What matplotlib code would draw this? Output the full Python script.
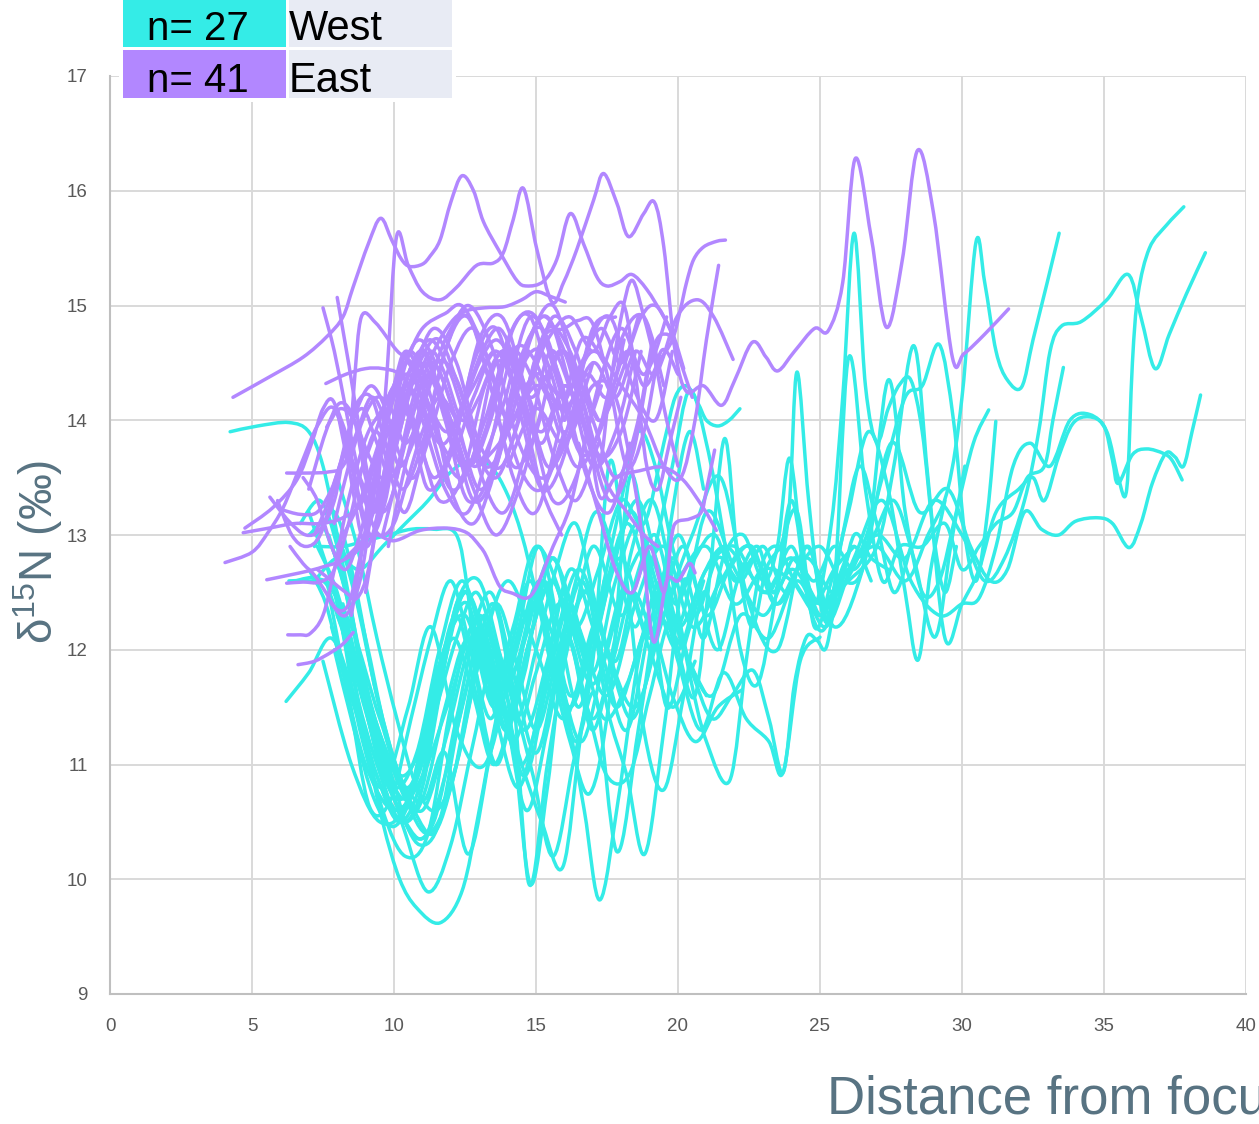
import numpy as np
import matplotlib
matplotlib.use("Agg")
import matplotlib.pyplot as plt
from matplotlib.path import Path
from matplotlib.patches import PathPatch, Rectangle

# ---------------------------------------------------------------- data
x_ticks = [0, 5, 10, 15, 20, 25, 30, 35, 40]
y_ticks = [9, 10, 11, 12, 13, 14, 15, 16, 17]
group_names = ["West", "East"]
group_counts = ["n= 27", "n= 41"]

# West profiles: (distance, d15N)
w01 = [(7.0,12.7),(7.6,12.4),(8.2,11.8),(9.0,11.0),(10.0,10.6),(11.0,10.9),(12.0,11.6),(13.0,12.3),(14.0,11.7),(15.0,12.4),(16.0,12.0),(17.0,12.9),(18.0,12.3),(19.0,12.8),(20.0,12.2),(21.0,13.2),(22.0,12.7),(23.0,12.3),(24.0,12.7),(25.0,12.4),(26.0,12.7),(27.0,13.0),(28.0,12.8),(29.0,13.3),(30.0,13.0),(30.8,12.6),(31.5,12.8),(32.2,13.3),(32.7,13.9),(33.1,14.6),(33.5,14.82),(34.2,14.86),(35.1,15.05),(35.85,15.27),(36.3,14.9),(36.8,14.45),(37.3,14.75),(37.9,15.1),(38.57,15.46)]
w02 = [(7.0,13.2),(8.0,12.4),(8.8,11.3),(9.6,10.8),(10.5,11.5),(11.3,12.2),(12.2,11.3),(13.2,11.0),(14.2,11.9),(15.2,12.6),(16.2,11.6),(17.2,12.3),(18.2,13.1),(19.2,12.4),(20.2,12.0),(21.2,11.6),(22.2,12.3),(23.2,12.1),(24.2,12.6),(25.2,12.2),(26.2,12.8),(27.2,13.3),(28.2,12.6),(29.2,12.3),(30.0,12.4),(30.6,12.45),(31.2,12.9),(31.8,13.6),(32.4,13.8),(33.1,13.6),(33.8,14.0),(34.5,14.05),(35.1,13.9),(35.5,13.5),(35.8,13.4),(36.0,14.5),(36.2,15.1),(36.6,15.5),(37.2,15.7),(37.81,15.86)]
w03 = [(6.5,12.6),(7.5,12.6),(8.5,12.2),(9.5,11.4),(10.5,10.8),(11.5,11.6),(12.5,12.5),(13.5,11.8),(14.5,11.0),(15.5,11.9),(16.5,12.7),(17.5,12.0),(18.5,11.5),(19.5,12.3),(20.5,13.0),(21.5,13.5),(22.5,12.4),(23.5,12.0),(24.5,12.9),(25.5,12.2),(26.5,12.7),(27.5,13.8),(28.5,13.2),(29.5,13.4),(30.3,12.9),(31.0,12.6),(31.6,12.7),(32.2,13.2),(32.8,13.05),(33.4,13.0),(34.0,13.12),(34.8,13.15),(35.3,13.1),(35.88,12.89),(36.3,13.1),(36.7,13.45),(37.17,13.71),(37.5,13.68),(37.8,13.6),(38.1,13.9),(38.4,14.22)]
w04 = [(7.8,12.2),(8.6,11.5),(9.4,10.9),(10.2,10.5),(11.0,10.9),(11.8,12.0),(12.6,12.4),(13.4,11.6),(14.2,12.2),(15.0,12.9),(16.0,12.4),(17.0,11.7),(18.0,12.5),(19.0,12.9),(20.0,12.2),(21.0,12.7),(22.0,12.9),(23.0,12.5),(24.0,12.8),(25.0,12.4),(26.0,12.6),(27.0,12.9),(27.6,13.6),(28.3,14.65),(28.8,13.5),(29.4,12.1),(30.0,12.4),(30.6,12.7),(31.2,13.2),(32.0,13.4),(32.5,13.5),(32.9,13.3),(33.4,13.68),(33.9,13.97),(34.47,14.03),(35.0,13.95),(35.3,13.65),(35.5,13.45),(36.0,13.7),(36.5,13.75),(37.1,13.71),(37.4,13.65),(37.75,13.48)]
w05 = [(8.0,12.3),(8.8,11.8),(9.6,11.2),(10.4,10.7),(11.2,10.4),(12.0,10.8),(13.0,11.9),(14.0,12.6),(15.0,12.0),(16.0,11.4),(17.0,12.2),(18.0,12.8),(19.0,12.1),(20.0,12.6),(21.0,12.9),(22.0,12.4),(23.0,12.7),(24.0,12.6),(25.0,12.3),(26.0,12.7),(27.0,12.9),(28.0,12.6),(28.8,13.0),(29.5,13.4),(30.0,14.2),(30.49,15.55),(30.8,15.2),(31.2,14.6),(31.6,14.35),(32.1,14.29),(32.5,14.7),(33.0,15.2),(33.42,15.63)]
w06 = [(7.0,13.0),(7.8,13.1),(8.6,12.5),(9.4,11.6),(10.2,10.9),(11.0,10.6),(11.8,11.2),(12.6,12.0),(13.4,12.5),(14.2,11.8),(15.0,11.1),(15.8,11.9),(16.6,12.6),(17.4,11.9),(18.2,11.3),(19.0,12.2),(19.8,12.8),(20.6,12.3),(21.4,12.8),(22.2,12.6),(23.0,12.9),(23.8,12.5),(24.6,12.9),(25.4,12.3),(26.0,14.54),(26.6,13.4),(27.2,12.6),(27.8,12.9),(28.6,12.9),(29.4,13.1),(30.0,12.7),(30.6,12.9),(31.2,13.1),(31.8,13.2),(32.3,13.5),(32.9,13.6),(33.2,14.0),(33.57,14.46)]
w07 = [(7.5,11.9),(8.5,11.0),(9.5,10.5),(10.5,10.7),(11.5,11.8),(12.5,12.3),(13.5,11.5),(14.5,12.0),(15.5,12.8),(16.5,12.2),(17.5,11.6),(18.5,12.4),(19.5,12.9),(20.5,12.2),(21.5,12.6),(22.5,12.9),(23.5,12.4),(24.5,12.8),(25.5,12.5),(26.5,12.9),(27.3,13.6),(28.0,14.2),(28.6,14.3),(29.2,14.66),(29.7,14.0),(30.1,13.0),(30.5,12.6),(30.9,13.2),(31.19,13.99)]
w08 = [(8.2,12.4),(9.0,11.6),(9.8,11.0),(10.6,10.4),(11.4,10.5),(12.2,11.4),(13.0,12.2),(13.8,11.6),(14.6,10.9),(15.4,11.7),(16.2,12.4),(17.0,11.8),(17.8,12.6),(18.6,13.1),(19.4,12.5),(20.2,12.9),(21.0,12.3),(21.8,12.7),(22.6,12.9),(23.4,12.4),(24.2,12.7),(25.0,12.9),(25.8,12.6),(26.6,12.8),(27.4,14.35),(28.0,13.2),(28.6,12.5),(29.2,12.6),(29.8,13.2),(30.4,13.8),(30.94,14.09)]
w09 = [(8.0,12.0),(8.8,11.4),(9.6,10.6),(10.4,10.2),(11.2,10.4),(12.0,11.5),(12.8,12.2),(13.6,11.4),(14.4,10.8),(15.2,11.6),(16.0,12.5),(16.8,11.9),(17.6,12.6),(18.4,13.2),(19.2,12.5),(20.0,12.0),(20.8,12.6),(21.6,12.9),(22.4,12.7),(23.2,12.5),(24.0,12.9),(24.8,12.4),(25.4,13.1),(25.8,14.2),(26.2,15.63),(26.6,14.3),(27.0,13.81),(27.4,14.1),(27.8,14.31),(28.2,14.35),(28.6,13.9),(29.0,13.0),(29.4,12.5),(29.8,12.9)]
w10 = [(7.6,12.6),(8.4,12.0),(9.2,11.3),(10.0,10.8),(10.8,11.1),(11.6,12.0),(12.4,12.6),(13.2,12.0),(14.0,11.4),(14.8,12.1),(15.6,12.8),(16.4,12.2),(17.2,12.7),(18.0,13.3),(18.8,13.1),(19.5,13.8),(19.9,14.2),(20.3,14.3),(20.7,14.15),(21.0,14.0),(21.4,13.95),(21.8,14.0),(22.18,14.1)]
w11 = [(6.2,11.55),(7.0,11.8),(7.8,12.1),(8.6,11.6),(9.4,10.9),(10.2,10.5),(11.0,10.7),(11.8,11.5),(12.6,12.1),(13.4,11.7),(14.2,11.2),(15.0,11.8),(15.8,12.4),(16.6,12.0),(17.4,11.4),(18.2,11.7),(19.0,12.2),(19.8,11.6),(20.6,11.2),(21.4,11.5),(22.25,11.65)]
w12 = [(4.23,13.9),(5.2,13.95),(6.3,13.98),(7.0,13.9),(7.5,13.6),(8.0,13.0),(8.6,12.2),(9.2,11.3),(9.8,10.7),(10.4,10.5),(11.0,10.8),(11.6,11.6),(12.2,12.4),(13.0,12.6),(13.8,11.9),(14.6,11.3),(15.4,11.9),(16.2,12.7),(17.0,12.2),(17.8,11.5),(18.6,12.0),(19.4,12.6),(20.2,12.0),(21.0,11.6)]
w13 = [(6.3,12.6),(7.0,12.6),(7.8,12.55),(8.4,12.0),(9.0,11.2),(9.6,10.5),(10.2,10.0),(10.8,9.75),(11.62,9.62),(12.4,9.9),(13.0,10.6),(13.6,11.4),(14.2,12.0),(15.0,12.4),(15.8,11.8),(16.6,11.2),(17.4,11.9),(18.2,12.5),(19.0,12.0),(19.8,11.5),(20.6,11.9)]
w14 = [(6.7,13.1),(7.4,13.3),(8.0,12.9),(8.6,12.2),(9.2,11.5),(9.8,10.9),(10.4,10.4),(11.2,9.89),(12.0,10.3),(12.8,11.2),(13.6,12.0),(14.2,11.2),(14.8,9.96),(15.4,10.8),(16.0,12.0),(16.8,12.5),(17.6,11.9),(18.4,11.4),(19.2,12.1),(19.8,13.2),(20.4,13.9),(20.9,13.4)]
w15 = [(7.2,12.9),(7.9,13.2),(8.6,12.6),(9.3,11.7),(10.0,11.0),(10.7,10.6),(11.4,10.4),(12.1,10.9),(12.8,11.8),(13.5,12.4),(14.2,11.6),(14.9,10.9),(15.6,10.2),(16.3,11.0),(17.0,11.9),(17.6,13.64),(18.2,12.6),(18.8,11.3),(19.5,10.78),(20.2,11.6),(20.9,12.5),(21.5,12.0)]
w16 = [(7.7,13.0),(8.4,12.4),(9.0,11.6),(9.7,11.0),(10.4,10.7),(11.1,11.1),(11.8,11.9),(12.5,12.5),(13.2,12.0),(13.9,11.3),(14.6,11.8),(15.3,12.6),(16.0,11.6),(16.7,10.6),(17.25,9.82),(17.9,10.7),(18.6,11.9),(19.3,12.5),(20.0,11.9),(20.8,11.3),(21.6,11.8),(22.4,11.4),(23.2,11.2),(23.7,10.93),(24.3,11.9),(25.0,12.11)]
w17 = [(8.0,12.4),(8.7,11.6),(9.4,11.0),(10.1,10.6),(10.8,10.9),(11.5,11.7),(12.2,12.3),(12.9,11.6),(13.6,11.0),(14.3,11.7),(15.0,12.5),(15.7,11.8),(16.4,11.2),(17.1,11.6),(17.85,10.24),(18.6,11.3),(19.3,12.4),(20.0,13.0),(20.7,12.5),(21.4,12.0),(22.1,12.6),(22.8,12.9),(23.4,12.5),(23.9,13.2),(24.19,14.42),(24.6,13.3),(25.1,12.3),(25.6,12.4),(26.2,13.0),(26.8,12.8),(27.4,12.7)]
w18 = [(7.6,13.2),(8.3,12.8),(9.0,12.1),(9.7,11.3),(10.4,10.8),(11.1,10.7),(11.8,11.1),(12.61,10.22),(13.4,11.1),(14.1,11.8),(14.75,9.96),(15.4,11.0),(16.1,12.0),(16.8,12.5),(17.5,11.5),(18.2,10.9),(18.83,10.22),(19.5,11.3),(20.2,12.6),(20.9,12.1),(21.6,12.8),(22.3,13.0),(23.0,12.6),(23.5,12.9),(23.93,13.67),(24.4,12.8),(25.0,12.3),(25.6,12.6),(26.2,12.9),(26.8,12.6)]
w19 = [(8.1,12.3),(8.8,11.7),(9.5,11.0),(10.2,10.6),(10.9,10.3),(11.6,10.5),(12.3,11.4),(13.0,12.0),(13.7,11.5),(14.4,12.2),(15.1,12.9),(15.8,12.2),(16.5,11.5),(17.2,12.2),(17.9,12.9),(18.6,13.3),(19.3,12.7),(20.0,12.0),(20.6,11.6),(21.1,12.6),(21.64,13.84),(22.1,12.8),(22.6,12.2),(23.1,12.7),(23.6,12.9),(24.2,13.2),(24.8,12.2),(25.4,12.6),(26.0,13.2),(26.7,13.9),(27.4,13.4),(28.0,12.5),(28.45,11.91),(28.9,12.7),(29.4,13.3)]
w20 = [(7.9,12.0),(8.6,11.3),(9.3,10.7),(10.0,10.46),(10.7,10.8),(11.4,11.6),(12.1,12.1),(12.8,11.6),(13.5,11.0),(14.2,11.5),(14.9,12.2),(15.6,12.6),(16.3,12.0),(17.0,11.3),(17.7,12.0),(18.4,12.9),(19.1,13.3),(19.8,12.6),(20.4,11.8),(21.0,11.2),(21.82,10.86),(22.4,11.9),(22.9,12.7),(23.5,12.9),(24.1,12.6),(24.8,12.4),(25.5,12.7),(26.2,12.9)]
w21 = [(7.3,12.9),(8.0,12.5),(8.7,11.8),(9.4,11.1),(10.1,10.7),(10.8,10.9),(11.5,11.5),(12.2,12.1),(12.9,12.5),(13.6,12.0),(14.3,11.4),(15.0,12.0),(15.7,12.7),(16.4,13.1),(17.1,12.4),(17.8,11.9),(18.5,12.6),(19.2,13.0),(19.9,12.4),(20.6,12.8),(21.3,13.0),(22.0,12.6),(22.7,12.8),(23.4,12.5),(24.1,12.8),(24.8,12.6),(25.5,12.9),(26.2,12.7),(26.9,13.0),(27.6,13.3),(28.3,12.8),(29.04,12.11),(29.6,12.9),(30.1,13.6)]
w22 = [(8.3,12.2),(9.0,11.5),(9.7,10.9),(10.4,10.5),(11.08,10.37),(11.8,10.9),(12.5,11.6),(13.2,12.3),(13.9,11.5),(14.66,10.6),(15.4,11.3),(16.1,12.1),(16.8,11.5),(17.5,10.9),(18.3,10.92),(19.0,11.6),(19.8,12.3),(20.5,11.8),(21.2,11.4),(21.9,11.6),(22.64,11.82),(23.2,11.4),(23.7,10.93),(24.1,11.7),(24.52,12.11),(24.9,12.08),(25.22,12.02),(25.6,12.5),(26.1,12.9)]
w23 = [(7.7,12.5),(8.4,11.6),(9.14,10.63),(9.9,10.7),(10.6,11.4),(11.3,12.1),(12.0,12.6),(12.7,12.0),(13.4,11.4),(14.1,12.0),(14.8,12.6),(15.5,11.9),(16.2,11.2),(16.9,10.75),(17.6,11.6),(18.3,13.5),(19.0,12.6),(19.6,11.5),(20.3,12.1),(20.9,12.6)]
w24 = [(7.5,13.1),(8.2,12.6),(8.9,11.8),(9.6,11.2),(10.3,10.9),(11.0,11.2),(11.7,11.9),(12.4,12.5),(13.1,12.2),(13.8,11.6),(14.5,11.0),(15.2,10.5),(15.95,10.11),(16.6,11.3),(17.4,12.6)]
w25 = [(8.0,13.5),(8.7,12.9),(9.4,12.1),(10.1,11.4),(10.8,10.8),(11.5,10.6),(12.2,11.0),(12.9,11.8),(13.6,12.4),(14.3,11.9),(15.0,11.3),(15.7,11.9),(16.4,12.6),(17.1,13.2),(17.8,12.8),(18.5,12.2),(19.2,12.9),(19.8,13.6),(20.4,14.26),(21.0,13.8),(21.6,13.0),(22.2,12.0),(22.8,11.7),(23.4,12.4),(24.0,13.3),(24.6,12.4),(25.2,12.2),(25.8,13.0),(26.4,13.6),(27.0,13.1),(27.6,12.5),(28.2,12.9)]
w26 = [(7.4,12.9),(8.2,12.9),(9.0,12.95),(9.8,13.0),(10.6,13.05),(11.4,13.05),(12.2,13.0),(12.6,12.5),(13.0,11.6),(13.6,11.0),(14.2,11.5),(14.9,12.2),(15.6,12.6),(16.3,12.0),(17.0,11.4),(17.7,11.9),(18.4,12.5),(19.1,12.1)]
w27 = [(7.2,12.6),(8.0,12.8),(8.8,12.7),(9.6,12.9),(10.4,13.1),(11.2,13.3),(12.0,13.55),(12.7,13.65),(13.4,13.6),(14.0,13.35),(14.5,13.0),(15.0,12.5),(15.6,11.9),(16.2,11.5),(16.8,11.9),(17.4,12.6),(18.0,13.3),(18.6,13.9),(19.2,13.6),(19.8,12.9),(20.5,12.3)]

# East profiles: (distance, d15N)
e01 = [(9.4,13.3),(9.75,14.4),(10.09,15.6),(10.5,15.35),(11.0,15.12),(11.62,15.05),(12.21,15.16),(12.91,15.35),(13.5,15.37),(13.85,15.46),(14.2,15.75),(14.56,16.02),(15.03,15.49),(15.56,15.03),(15.97,15.2),(16.44,15.49),(17.03,15.92),(17.38,16.15),(17.85,15.89),(18.26,15.6),(18.79,15.8),(19.17,15.9),(19.5,15.51),(19.9,14.6),(20.3,14.25),(20.9,14.3),(21.53,14.13),(22.0,14.35),(22.62,14.68),(23.1,14.55),(23.51,14.43),(24.1,14.6),(24.81,14.8),(25.29,14.78),(25.8,15.2),(26.24,16.28),(26.8,15.6),(27.34,14.81),(27.9,15.4),(28.43,16.35),(29.0,15.8),(29.66,14.55),(30.07,14.58),(30.8,14.75),(31.64,14.97)]
e02 = [(4.33,14.2),(5.63,14.38),(6.8,14.55),(7.64,14.73),(8.2,14.9),(8.56,15.16),(9.1,15.54),(9.53,15.76),(9.92,15.57),(10.27,15.4),(10.56,15.34),(11.0,15.36),(11.27,15.43),(11.62,15.57),(12.0,15.9),(12.39,16.13),(12.8,16.0),(13.15,15.73),(13.74,15.46),(14.32,15.22),(14.68,15.17),(15.26,15.21),(15.73,15.4),(16.2,15.8),(16.67,15.54),(17.14,15.25),(17.5,15.17),(17.97,15.21),(18.38,15.27),(18.9,15.14),(19.5,14.9),(19.85,14.73),(20.2,14.45)]
e03 = [(7.5,14.98),(7.9,14.6),(8.3,14.1),(8.7,13.6),(9.1,13.2),(9.5,13.0),(10.0,13.1),(10.5,13.5),(11.0,13.9),(11.6,14.2),(12.2,14.0)]
e04 = [(8.0,15.07),(8.4,14.5),(8.8,13.9),(9.2,13.4),(9.6,13.2),(10.0,13.4),(10.4,13.9),(10.8,14.3),(11.3,14.6),(11.8,14.4),(12.4,14.0),(13.0,14.2)]
e05 = [(9.6,13.0),(10.2,13.6),(10.8,14.2),(11.4,14.6),(12.0,14.85),(12.5,14.95),(13.2,14.98),(13.9,14.99),(14.5,15.05),(15.0,15.12),(15.5,15.08),(16.03,15.03)]
e06 = [(7.6,14.32),(8.3,14.4),(9.0,14.45),(9.6,14.45),(10.2,14.4),(10.8,14.2),(11.3,13.9),(11.8,13.8),(12.4,14.1),(13.0,14.5),(13.6,14.7),(14.2,14.5),(14.8,14.2),(15.4,14.4),(16.0,14.6),(16.6,14.3),(17.2,14.0)]
e07 = [(14.0,13.9),(15.0,14.3),(16.0,14.1),(16.8,14.4),(17.5,14.2),(18.2,14.6),(18.8,14.3),(19.3,14.5),(19.8,14.7),(20.08,14.96),(20.3,15.2),(20.55,15.4),(20.9,15.51),(21.37,15.56),(21.67,15.57)]
e08 = [(13.0,13.6),(14.0,13.9),(15.0,14.4),(16.0,14.2),(17.0,14.6),(18.0,14.3),(18.8,14.0),(19.5,13.6),(20.1,13.5),(20.6,14.0),(21.0,14.7),(21.43,15.35)]
e09 = [(16.0,14.0),(17.0,14.5),(17.8,14.2),(18.5,14.6),(19.2,14.4),(19.96,14.9),(20.67,15.05),(21.26,14.9),(21.94,14.53)]
e10 = [(7.9,13.1),(8.4,13.6),(8.9,14.0),(9.4,14.2),(9.9,14.1),(10.4,13.8),(11.0,14.1),(11.8,14.7),(12.6,14.9),(13.4,14.3),(14.2,13.6),(15.0,13.9),(15.8,14.6),(16.6,14.2),(17.4,13.5),(18.2,13.2),(18.8,13.0),(19.3,12.9)]
e11 = [(14.0,13.6),(15.0,14.1),(16.0,13.8),(17.0,14.3),(17.8,14.2),(18.6,13.24),(19.12,12.08),(19.6,12.6),(20.0,12.6),(20.4,12.75),(20.6,12.67)]
e12 = [(8.0,12.9),(8.8,13.3),(9.6,13.9),(10.4,14.4),(11.2,14.1),(12.0,13.7),(12.8,14.2),(13.6,14.6),(14.4,14.2),(15.2,13.8),(16.0,14.3),(16.8,13.9),(17.25,13.33),(17.8,13.5),(18.65,13.56),(19.47,13.59),(20.18,13.48),(20.88,13.24),(21.35,13.04)]
e13 = [(16.5,13.8),(17.2,13.2),(17.8,12.7),(18.4,12.5),(19.0,12.9),(19.5,12.5),(19.77,12.98),(19.94,13.11),(20.41,13.14),(20.82,13.2),(21.0,13.39),(21.29,13.74)]
e14 = [(8.3,12.8),(9.2,13.0),(10.0,12.95),(10.92,13.04),(11.86,13.06),(12.56,13.02),(13.03,12.9),(13.26,12.81),(13.73,12.55),(14.2,12.49),(14.67,12.45),(15.02,12.55),(15.6,12.9),(16.2,13.25),(16.8,13.9),(17.3,14.3)]
e15 = [(4.05,12.76),(5.0,12.85),(5.56,13.02),(6.1,13.24),(6.7,13.6),(7.3,13.95),(7.9,14.1),(8.5,13.6),(9.1,13.0),(9.7,13.3),(10.3,14.2),(11.0,14.6),(11.8,14.0),(12.6,13.3),(13.5,13.6),(14.4,14.5),(15.2,14.8),(16.0,14.2)]
e16 = [(4.75,13.06),(5.74,13.24),(6.58,13.48),(7.1,13.8),(7.5,14.1),(7.9,14.15),(8.4,13.6),(9.0,12.9),(9.6,13.4),(10.2,14.3),(10.9,14.7),(11.8,14.3),(12.8,13.6),(13.8,14.1),(14.8,14.9),(15.8,14.4),(16.8,13.5),(17.6,13.2),(18.3,13.8)]
e17 = [(4.69,13.02),(5.6,13.06),(6.5,13.1),(7.4,13.1),(8.2,13.15),(8.9,13.3),(9.5,13.8),(10.0,14.3),(10.6,14.6),(11.3,14.2),(12.0,13.4),(12.8,13.1),(13.6,13.6),(14.4,14.4),(15.2,14.6),(16.0,14.0)]
e18 = [(5.52,12.61),(6.3,12.65),(7.04,12.69),(7.6,12.73),(8.2,12.78),(8.8,12.9),(9.4,13.3),(10.0,13.9),(10.6,14.3),(11.4,14.5),(12.2,14.0),(13.0,13.4),(13.8,13.8),(14.6,14.6),(15.4,14.9),(16.2,14.3),(17.0,13.6),(17.8,13.9),(18.5,14.6)]
e19 = [(6.22,12.58),(6.8,12.59),(7.39,12.59),(7.9,12.7),(8.4,13.1),(8.9,13.6),(9.4,13.9),(9.9,13.5),(10.4,13.2),(11.0,13.7),(11.8,14.6),(12.6,14.9),(13.4,14.3),(14.2,13.5),(15.0,13.2),(15.8,13.9),(16.6,14.7),(17.4,14.5)]
e20 = [(6.26,12.13),(6.7,12.13),(7.04,12.14),(7.5,12.3),(7.9,12.7),(8.3,13.2),(8.7,13.6),(9.1,13.9),(9.6,14.1),(10.1,14.3),(10.7,14.0),(11.4,13.5),(12.2,13.9),(13.0,14.7),(13.8,14.9),(14.6,14.3),(15.4,13.6),(16.2,13.9),(17.0,14.5)]
e21 = [(6.62,11.87),(7.2,11.9),(7.8,11.98),(8.2,12.05),(8.56,12.15)]
e22 = [(5.63,13.33),(6.3,13.12),(6.9,13.0),(7.4,13.05),(7.9,13.3),(8.3,13.8),(8.7,14.15),(9.2,14.2),(9.7,13.8),(10.3,13.4),(11.0,13.8),(11.8,14.6),(12.6,15.0),(13.5,14.6),(14.4,13.8),(15.3,13.5),(16.2,14.0),(17.0,14.8),(17.8,14.9)]
e23 = [(6.05,13.22),(6.7,13.18),(7.3,13.2),(7.8,13.4),(8.3,13.7),(8.8,13.5),(9.3,13.2),(9.8,13.5),(10.3,14.0),(10.9,14.5),(11.6,14.7),(12.4,14.2),(13.2,13.6),(14.0,13.9),(14.8,14.7),(15.6,15.0),(16.4,14.4),(17.2,13.7),(18.0,13.9),(18.7,14.6)]
e24 = [(6.22,13.54),(7.0,13.54),(7.7,13.55),(8.2,13.6),(8.7,13.9),(9.2,14.2),(9.7,14.0),(10.2,13.6),(10.8,13.9),(11.5,14.5),(12.3,14.3),(13.1,13.5),(13.9,13.2),(14.7,13.8),(15.5,14.6),(16.3,14.2)]
e25 = [(6.34,12.9),(6.8,12.75),(7.2,12.65),(7.6,12.5),(8.0,12.35),(8.4,12.4),(8.8,12.8),(9.2,13.3),(9.6,13.8),(10.0,14.2),(10.5,14.5),(11.2,14.0),(12.0,13.4),(12.8,13.7),(13.6,14.5),(14.4,14.2),(15.2,13.4),(15.9,13.0)]
e26 = [(7.63,13.94),(8.1,14.1),(8.6,14.0),(9.1,13.7),(9.6,13.5),(10.1,13.8),(10.7,14.4),(11.4,14.8),(12.2,14.5),(13.0,13.8),(13.8,13.6),(14.6,14.2),(15.4,14.8),(16.2,14.6),(17.0,14.0),(17.8,13.5),(18.5,13.9),(19.1,14.7)]
e27 = [(7.0,13.4),(7.6,13.9),(8.1,14.15),(8.6,14.0),(9.0,13.5),(9.4,13.2),(9.8,13.5),(10.3,14.1),(10.9,14.5),(11.6,14.2),(12.4,13.6),(13.2,13.9),(14.0,14.7),(14.8,14.9),(15.6,14.2),(16.4,13.6),(17.2,13.9),(18.0,14.7),(18.8,14.9),(19.5,14.3)]
e28 = [(8.5,12.3),(8.9,12.9),(9.3,13.5),(9.7,14.0),(10.1,14.3),(10.6,14.0),(11.2,13.4),(12.0,13.7),(12.8,14.5),(13.6,14.8),(14.4,14.1),(15.2,13.4),(16.0,13.7),(16.8,14.6),(17.6,14.9),(18.4,14.3),(19.2,14.0),(19.8,14.6)]
e29 = [(7.8,12.4),(8.3,12.3),(8.8,12.6),(9.2,13.2),(9.6,13.8),(10.0,14.3),(10.4,14.6),(10.9,14.4),(11.6,13.8),(12.4,13.5),(13.2,14.0),(14.0,14.6),(14.8,14.4),(15.6,13.7),(16.4,13.3),(17.2,13.8)]
e30 = [(8.0,14.1),(8.4,13.8),(8.8,13.3),(9.2,13.0),(9.6,13.3),(10.0,13.9),(10.5,14.4),(11.1,14.6),(11.8,14.1),(12.6,13.6),(13.4,14.0),(14.2,14.8),(15.0,14.9),(15.8,14.3),(16.6,13.7),(17.4,14.0),(18.1,14.7)]
e31 = [(7.2,13.0),(7.7,13.3),(8.2,13.7),(8.7,14.1),(9.2,14.3),(9.7,14.1),(10.2,13.7),(10.7,13.5),(11.3,13.9),(12.0,14.5),(12.8,14.8),(13.6,14.3),(14.4,13.6),(15.2,13.4),(16.0,13.9)]
e32 = [(6.8,13.5),(7.3,13.3),(7.8,12.9),(8.3,12.7),(8.8,13.0),(9.3,13.5),(9.8,13.9),(10.3,14.1),(10.9,13.8),(11.6,13.3),(12.4,13.5),(13.2,14.3),(14.0,14.6),(14.8,14.0),(15.6,13.3),(16.4,13.5),(17.2,14.3),(18.0,14.8),(18.8,14.4),(19.6,14.9)]
e33 = [(8.6,13.4),(9.2,13.8),(9.8,14.2),(10.4,14.5),(11.0,14.8),(11.8,14.93),(12.43,14.99),(13.2,14.6),(14.0,14.0),(14.8,14.3),(15.6,14.9),(16.4,14.6),(17.2,14.0),(18.0,14.4),(18.6,14.9)]
e34 = [(9.0,12.5),(9.4,13.1),(9.8,13.7),(10.2,14.2),(10.7,14.5),(11.3,14.7),(12.0,14.4),(12.8,13.8),(13.6,13.5),(14.4,14.0),(15.2,14.7),(16.0,14.8),(16.5,14.87),(17.0,14.84),(17.6,14.3),(18.2,13.6),(18.8,13.9),(19.4,14.6),(20.0,14.4)]
e35 = [(12.0,13.9),(12.8,14.3),(13.6,14.6),(14.4,14.2),(15.2,13.9),(16.0,14.3),(16.6,14.0),(17.2,13.6),(17.61,14.3),(18.0,14.9),(18.38,15.22),(18.8,14.9),(19.2,14.5),(19.6,14.0),(20.0,13.6)]
e36 = [(13.0,14.2),(13.8,14.6),(14.6,14.3),(15.4,14.7),(16.2,14.9),(17.0,14.6),(17.6,14.9),(18.1,15.0),(18.5,14.4),(18.9,13.6),(19.3,13.4),(19.7,13.8),(20.1,14.2)]
e37 = [(15.0,14.4),(15.8,14.1),(16.6,14.5),(17.3,14.8),(18.0,14.5),(18.7,14.9),(19.2,15.0),(19.7,14.8),(20.1,14.5),(20.5,14.2)]
e38 = [(9.8,12.9),(10.3,13.5),(10.8,14.0),(11.3,14.4),(12.0,14.0),(12.8,13.3),(13.6,13.6),(14.4,14.4),(15.2,14.9),(16.0,14.6),(16.8,13.9),(17.6,13.3),(18.4,13.7),(19.1,14.6),(19.6,14.75),(20.0,14.6)]
e39 = [(8.4,13.6),(8.6,14.32),(8.85,14.9),(9.35,14.85),(10.09,14.61),(10.7,14.47),(11.3,14.1),(11.9,13.9),(12.5,14.2),(13.1,14.6),(13.7,14.8),(14.3,14.5),(14.9,14.1)]
e40 = [(7.3,12.7),(7.8,12.6),(8.3,12.5),(8.7,12.45),(9.1,12.7),(9.5,13.3),(9.9,13.9),(10.4,14.3),(11.0,14.0),(11.8,13.4),(12.6,13.2),(13.4,13.8),(14.2,14.6),(15.0,14.5),(15.8,13.9)]
e41 = [(5.9,13.3),(6.4,13.0),(6.9,12.9),(7.4,13.0),(7.9,13.4),(8.4,13.9),(8.9,14.1),(9.4,13.8),(9.9,13.5),(10.5,13.9),(11.2,14.4),(12.0,14.0),(12.8,13.4),(13.6,13.0),(14.4,13.4),(15.2,14.1)]

west_series = [w01, w02, w03, w04, w05, w06, w07, w08, w09, w10, w11, w12, w13, w14,
               w15, w16, w17, w18, w19, w20, w21, w22, w23, w24, w25, w26, w27]
east_series = [e01, e02, e03, e04, e05, e06, e07, e08, e09, e10, e11, e12, e13, e14,
               e15, e16, e17, e18, e19, e20, e21, e22, e23, e24, e25, e26, e27, e28,
               e29, e30, e31, e32, e33, e34, e35, e36, e37, e38, e39, e40, e41]

# ---------------------------------------------------------------- style
WEST_COLOR = "#34ECE7"
EAST_COLOR = "#B287FF"
GRID_COLOR = "#D9D9D9"
TICK_COLOR = "#595959"
TITLE_COLOR = "#587382"
CELL_GREY = "#E8EBF4"
FONTS = ["Liberation Sans", "DejaVu Sans"]
W, H = 1259, 1124


def smooth_path(points):
    """Smoothed polyline through the points (cubic Bezier, Catmull-Rom tangents)."""
    p = np.asarray(points, dtype=float)
    n = len(p)
    verts = [p[0]]
    codes = [Path.MOVETO]
    for i in range(n - 1):
        p0 = p[max(i - 1, 0)]
        p1 = p[i]
        p2 = p[i + 1]
        p3 = p[min(i + 2, n - 1)]
        c1 = p1 + (p2 - p0) / 6.0
        c2 = p2 - (p3 - p1) / 6.0
        verts += [c1, c2, p2]
        codes += [Path.CURVE4] * 3
    return Path(verts, codes)


fig = plt.figure(figsize=(W / 100, H / 100), dpi=100)
ax = fig.add_axes([110 / W, 130 / H, 1136 / W, 918 / H])

for series in west_series:
    ax.add_patch(PathPatch(smooth_path(series), fill=False, edgecolor=WEST_COLOR,
                           lw=2.5, capstyle="round", joinstyle="round", zorder=3))
for series in east_series:
    ax.add_patch(PathPatch(smooth_path(series), fill=False, edgecolor=EAST_COLOR,
                           lw=2.5, capstyle="round", joinstyle="round", zorder=4))

ax.set_xlim(x_ticks[0], x_ticks[-1])
ax.set_ylim(y_ticks[0], y_ticks[-1])
ax.set_xticks(x_ticks)
ax.set_yticks(y_ticks)
ax.grid(True, color=GRID_COLOR, lw=1.4, zorder=0)
ax.set_axisbelow(True)
for side in ("top", "right"):
    ax.spines[side].set_visible(False)
for side in ("left", "bottom"):
    ax.spines[side].set_color("#BFBFBF")
    ax.spines[side].set_linewidth(1.5)
ax.tick_params(axis="both", length=0, colors=TICK_COLOR, labelsize=13.5)
ax.tick_params(axis="x", pad=17)
ax.tick_params(axis="y", pad=16)
for lab in ax.get_xticklabels() + ax.get_yticklabels():
    lab.set_fontfamily(FONTS)

# axis titles (the x title runs off the right edge of the figure)
fig.text(38 / W, 1 - 552 / H, "δ$\\mathregular{^{15}}$N (‰)", rotation=90,
         ha="center", va="center", fontsize=33, color=TITLE_COLOR, family=FONTS)
fig.text(827 / W, 1 - 1113 / H, "Distance from focus", ha="left", va="baseline",
         fontsize=38, color=TITLE_COLOR, family=FONTS)


# group key table in the top-left corner
def fig_rect(x0, y0, x1, y1, color, z):
    fig.add_artist(Rectangle((x0 / W, 1 - y1 / H), (x1 - x0) / W, (y1 - y0) / H,
                             transform=fig.transFigure, facecolor=color,
                             edgecolor="none", zorder=z))


fig_rect(119, 0, 456, 102, "white", 10)
rows = [(0, 47, 40), (50, 98, 92)]
for (y0, y1, base), color, count, name in zip(rows, [WEST_COLOR, EAST_COLOR],
                                              group_counts, group_names):
    fig_rect(123, y0, 286, y1, color, 11)
    fig_rect(289, y0, 452, y1, CELL_GREY, 11)
    yb = 1 - base / H
    fig.text(198 / W, yb, count, ha="center", va="baseline", fontsize=29,
             color="black", family=FONTS, zorder=12)
    fig.text(289 / W, yb, name, ha="left", va="baseline", fontsize=30,
             color="black", family=FONTS, zorder=12)

fig.savefig("out.png", dpi=100)
